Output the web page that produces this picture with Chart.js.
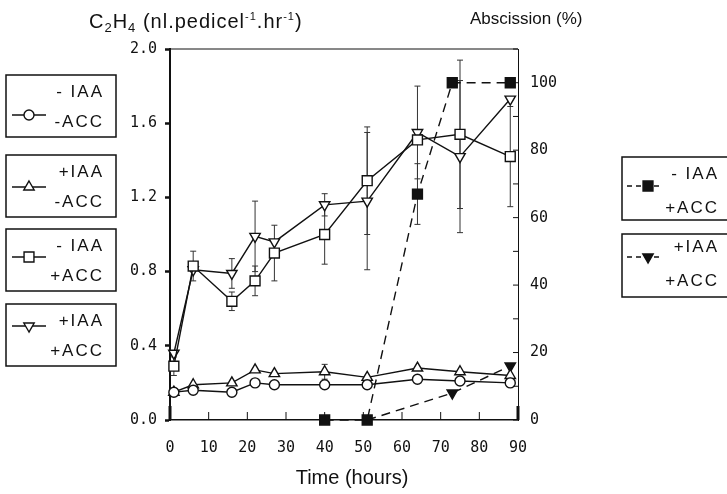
<!DOCTYPE html>
<html>
<head>
<meta charset="utf-8">
<script src="https://cdn.jsdelivr.net/npm/chart.js@4.4.1/dist/chart.umd.min.js"></script>
<style>
  body { margin: 0; background: #fff; }
  #wrap { width: 727px; height: 494px; }
</style>
</head>
<body>
<div id="wrap"><canvas id="chart" width="727" height="494"></canvas></div>
<script>
// ethylene sampling times (hours)
const times = [1, 6, 16, 22, 27, 40, 51, 64, 75, 88];
// C2H4 production, nl.pedicel-1.hr-1
const ethControl = [0.15, 0.16, 0.15, 0.20, 0.19, 0.19, 0.19, 0.22, 0.21, 0.20];
const ethIaa = [0.15, 0.19, 0.20, 0.27, 0.25, 0.26, 0.23, 0.28, 0.26, 0.24];
const ethAcc = [0.29, 0.83, 0.64, 0.75, 0.90, 1.00, 1.29, 1.51, 1.54, 1.42];
const ethIaaAcc = [0.36, 0.81, 0.79, 0.99, 0.96, 1.16, 1.18, 1.55, 1.42, 1.73];
// error bars (+/-)
const errIaa = [0, 0, 0, 0, 0, 0.04, 0, 0, 0, 0];
const errAcc = [0.05, 0.08, 0.05, 0.08, 0.15, 0.16, 0.29, 0, 0.40, 0.27];
const errIaaAcc = [0, 0, 0.08, 0.19, 0, 0.06, 0.37, 0.25, 0.41, 0];

// abscission (%)
const abscTimesAcc = [40, 51, 64, 73, 88];
const abscAcc = [0, 0, 67, 100, 100];
const errAbscAcc = [0, 0, 9, 0, 0];
const abscTimesIaaAcc = [51, 73, 88];
const abscIaaAcc = [0, 8, 16];

const xTicks = [0, 10, 20, 30, 40, 50, 60, 70, 80, 90];
const ink = "#111";
const sans = "'Liberation Sans', Arial, sans-serif";
const tickFont = { family: "'DejaVu Sans Mono', monospace", size: 15 };

function pts(xs, ys) {
  return xs.map((x, i) => ({ x: x, y: ys[i] }));
}

function lineSet(label, xs, ys, style, radius, extra) {
  return Object.assign({
    label: label,
    data: pts(xs, ys),
    borderColor: ink,
    borderWidth: 1.4,
    pointStyle: style,
    pointRadius: radius,
    pointBackgroundColor: "#fff",
    pointBorderColor: ink,
    pointBorderWidth: 1.4,
    tension: 0,
    clip: false,
    yAxisID: "y",
  }, extra || {});
}

const datasets = [
  lineSet("-IAA -ACC", times, ethControl, "circle", 5),
  lineSet("+IAA -ACC", times, ethIaa, "triangle", 6, { errors: errIaa }),
  lineSet("-IAA +ACC", times, ethAcc, "rect", 7, { errors: errAcc }),
  lineSet("+IAA +ACC", times, ethIaaAcc, "triangle", 6, { pointRotation: 180, errors: errIaaAcc }),
  lineSet("abscission -IAA +ACC", abscTimesAcc, abscAcc, "rect", 7, {
    yAxisID: "y2", borderDash: [9, 6], pointBackgroundColor: ink, errors: errAbscAcc,
  }),
  lineSet("abscission +IAA +ACC", abscTimesIaaAcc, abscIaaAcc, "triangle", [0, 6, 6], {
    yAxisID: "y2", borderDash: [9, 6], pointBackgroundColor: ink, pointRotation: 180,
  }),
];

// vertical error bars drawn through the scales
const errorBars = {
  id: "errorBars",
  beforeDatasetsDraw(chart) {
    const ctx = chart.ctx;
    ctx.save();
    ctx.strokeStyle = "#333";
    ctx.lineWidth = 1;
    chart.data.datasets.forEach((ds) => {
      if (!ds.errors) return;
      const xs = chart.scales.x;
      const ys = chart.scales[ds.yAxisID];
      ds.data.forEach((p, i) => {
        const e = ds.errors[i];
        if (!e) return;
        const px = xs.getPixelForValue(p.x);
        const top = ys.getPixelForValue(p.y + e);
        const bot = ys.getPixelForValue(p.y - e);
        ctx.beginPath();
        ctx.moveTo(px, top); ctx.lineTo(px, bot);
        ctx.moveTo(px - 3, top); ctx.lineTo(px + 3, top);
        ctx.moveTo(px - 3, bot); ctx.lineTo(px + 3, bot);
        ctx.stroke();
      });
    });
    ctx.restore();
  },
};

function marker(ctx, style, r, x, y, fill, rot) {
  ctx.save();
  ctx.fillStyle = fill;
  ctx.strokeStyle = ink;
  ctx.lineWidth = 1.4;
  Chart.helpers.drawPoint(ctx, { pointStyle: style, radius: r, rotation: rot || 0, borderWidth: 1.4 }, x, y);
  ctx.restore();
}

function legendBox(ctx, b) {
  ctx.save();
  ctx.strokeStyle = ink;
  ctx.lineWidth = 1.5;
  ctx.strokeRect(b.x, b.y, b.w, b.h);
  ctx.lineWidth = 1.4;
  if (b.dash) ctx.setLineDash([5, 4]);
  ctx.beginPath();
  ctx.moveTo(b.x + b.l0, b.y + b.ly);
  ctx.lineTo(b.x + b.l1, b.y + b.ly);
  ctx.stroke();
  ctx.setLineDash([]);
  marker(ctx, b.style, b.r, b.x + b.mx, b.y + b.ly, b.fill, b.rot);
  ctx.fillStyle = ink;
  ctx.font = "17px " + sans;
  ctx.letterSpacing = "2px";
  ctx.textAlign = "right";
  ctx.textBaseline = "middle";
  ctx.fillText(b.t1, b.tx, b.y + b.ty1);
  ctx.fillText(b.t2, b.tx, b.y + b.ty2);
  ctx.restore();
}

// text with sub/superscript parts: [text, size, dy]
function richText(ctx, parts, x, y) {
  ctx.textAlign = "left";
  ctx.textBaseline = "alphabetic";
  ctx.letterSpacing = "1px";
  parts.forEach((p) => {
    ctx.font = p[1] + "px " + sans;
    ctx.fillText(p[0], x, y + p[2]);
    x += ctx.measureText(p[0]).width;
  });
  ctx.letterSpacing = "0px";
}

const decorations = {
  id: "decorations",
  afterDraw(chart) {
    const ctx = chart.ctx;
    const a = chart.chartArea;
    const xs = chart.scales.x;
    const y2 = chart.scales.y2;
    ctx.save();
    ctx.strokeStyle = ink;
    // top frame line
    ctx.lineWidth = 1;
    ctx.beginPath();
    ctx.moveTo(a.left, a.top);
    ctx.lineTo(a.right, a.top);
    ctx.stroke();
    // inward x ticks
    xs.ticks.forEach((t) => {
      const px = xs.getPixelForValue(t.value);
      const edge = t.value === 0 || t.value === 90;
      ctx.lineWidth = edge ? 3 : 1;
      ctx.beginPath();
      ctx.moveTo(px, a.bottom);
      ctx.lineTo(px, a.bottom - (edge ? 14 : 8));
      ctx.stroke();
    });
    // inward right ticks
    ctx.lineWidth = 1;
    y2.ticks.forEach((t) => {
      const py = y2.getPixelForValue(t.value);
      ctx.beginPath();
      ctx.moveTo(a.right, py);
      ctx.lineTo(a.right - 5, py);
      ctx.stroke();
    });
    // axis titles
    ctx.fillStyle = ink;
    richText(ctx, [
      ["C", 20, 0], ["2", 13, 4], ["H", 20, 0], ["4", 13, 4],
      [" (nl.pedicel", 20, 0], ["-1", 11, -8], [".hr", 20, 0], ["-1", 11, -8], [")", 20, 0],
    ], 89, 28);
    ctx.font = "17px " + sans;
    ctx.textBaseline = "middle";
    ctx.textAlign = "left";
    ctx.fillText("Abscission (%)", 470, 19);
    ctx.font = "20px " + sans;
    ctx.textAlign = "center";
    ctx.fillText("Time (hours)", 352, 478);
    ctx.restore();

    const left = { x: 6, w: 110, h: 62, l0: 6, l1: 40, mx: 23, tx: 104, ty1: 17, ty2: 47 };
    legendBox(ctx, Object.assign({}, left, { y: 75, ly: 40, style: "circle", r: 5, fill: "#fff", t1: "- IAA", t2: "-ACC" }));
    legendBox(ctx, Object.assign({}, left, { y: 155, ly: 32, style: "triangle", r: 6, fill: "#fff", t1: "+IAA", t2: "-ACC" }));
    legendBox(ctx, Object.assign({}, left, { y: 229, ly: 28, style: "rect", r: 7, fill: "#fff", t1: "- IAA", t2: "+ACC" }));
    legendBox(ctx, Object.assign({}, left, { y: 304, ly: 22, style: "triangle", r: 6, rot: 180, fill: "#fff", t1: "+IAA", t2: "+ACC" }));
    const right = { x: 622, w: 120, h: 63, l0: 5, l1: 38, mx: 26, tx: 719 };
    legendBox(ctx, Object.assign({}, right, { y: 157, ly: 29, ty1: 17, ty2: 51, dash: true, style: "rect", r: 7, fill: ink, t1: "- IAA", t2: "+ACC" }));
    legendBox(ctx, Object.assign({}, right, { y: 234, ly: 23, ty1: 13, ty2: 47, dash: true, style: "triangle", r: 6, rot: 180, fill: ink, t1: "+IAA", t2: "+ACC" }));
  },
};

new Chart(document.getElementById("chart"), {
  type: "line",
  data: { datasets: datasets },
  plugins: [errorBars, decorations],
  options: {
    responsive: false,
    animation: false,
    layout: { padding: { top: 49, left: 0, right: 0, bottom: 0 } },
    plugins: { legend: { display: false }, tooltip: { enabled: false } },
    scales: {
      x: {
        type: "linear",
        min: 0,
        max: 90,
        afterBuildTicks: (s) => { s.ticks = xTicks.map((v) => ({ value: v })); },
        afterFit: (s) => { s.height = 74; },
        grid: { drawOnChartArea: false, drawTicks: false },
        border: { color: ink, width: 1.5 },
        ticks: { color: ink, font: tickFont, padding: 19, maxRotation: 0 },
      },
      y: {
        position: "left",
        min: 0,
        max: 2,
        afterFit: (s) => { s.width = 170; },
        grid: { drawOnChartArea: false, tickLength: 5, tickWidth: 2.5, tickColor: ink },
        border: { color: ink, width: 2 },
        ticks: { stepSize: 0.4, color: ink, font: tickFont, padding: 8, callback: (v) => v.toFixed(1) },
      },
      y2: {
        position: "right",
        min: 0,
        max: 110,
        afterFit: (s) => { s.width = 209; },
        grid: { drawOnChartArea: false, drawTicks: false },
        border: { color: ink, width: 1 },
        ticks: { stepSize: 10, color: ink, font: tickFont, padding: 12, autoSkip: false,
          callback: (v) => (v % 20 === 0 && v <= 100 ? String(v) : "") },
      },
    },
  },
});
</script>
</body>
</html>
